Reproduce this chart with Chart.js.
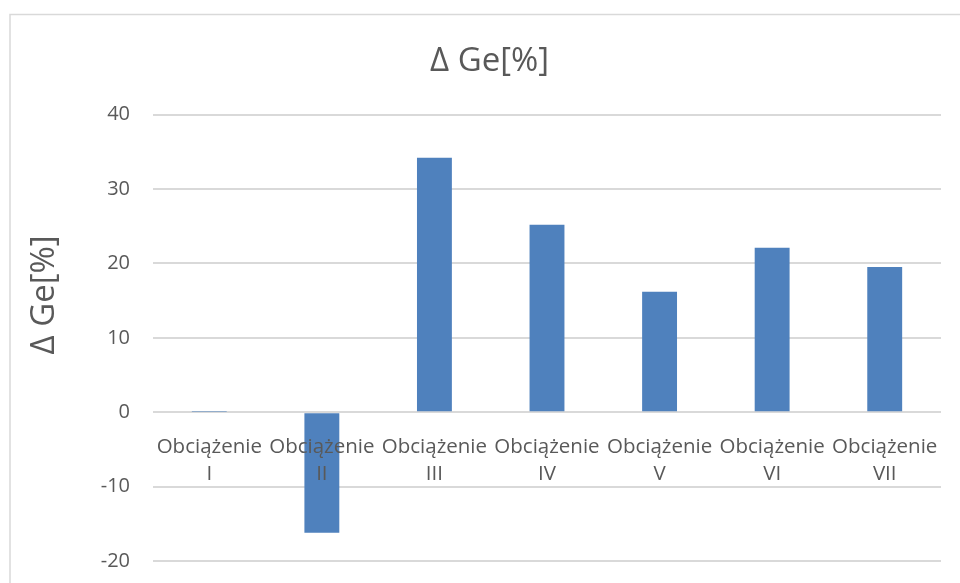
<!DOCTYPE html>
<html>
<head>
<meta charset="utf-8">
<script src="https://cdn.jsdelivr.net/npm/chart.js@4"></script>
<style>
  html, body { margin: 0; padding: 0; background: #fff; overflow: hidden; }
</style>
</head>
<body>
<canvas id="myChart" width="960" height="583"></canvas>
<script>
// load cases and the change of Ge for each of them
var categories = [
  ['Obciążenie', 'I'], ['Obciążenie', 'II'], ['Obciążenie', 'III'],
  ['Obciążenie', 'IV'], ['Obciążenie', 'V'], ['Obciążenie', 'VI'],
  ['Obciążenie', 'VII']
];
var deltaGe = [0.05, -16.2, 34.2, 25.2, 16.2, 22.1, 19.5];
var yTicks = [-20, -10, 0, 10, 20, 30, 40];

var textColor = '#595959';
var gridColor = '#d9d9d9';
var fontFamily = '"Open Sans", sans-serif';

// white background plus the top and left edge of the chart frame
var framePlugin = {
  id: 'frame',
  beforeDraw: function(chart) {
    var c = chart.ctx;
    c.save();
    c.fillStyle = '#fff';
    c.fillRect(0, 0, chart.width, chart.height);
    c.strokeStyle = gridColor;
    c.lineWidth = 1.5;
    c.beginPath();
    c.moveTo(10, chart.height);
    c.lineTo(10, 14.5);
    c.lineTo(chart.width, 14.5);
    c.stroke();
    c.restore();
  }
};

var ctx = document.getElementById('myChart').getContext('2d');
var myChart = new Chart(ctx, {
  type: 'bar',
  data: {
    labels: categories,
    datasets: [{
      label: 'Δ Ge[%]',
      data: deltaGe,
      backgroundColor: '#4f81bd',
      borderWidth: 0,
      categoryPercentage: 1,
      barPercentage: 0.31
    }]
  },
  options: {
    responsive: false,
    animation: false,
    layout: { padding: { left: 19, right: 0, top: 0, bottom: 22 } },
    plugins: {
      legend: { display: false },
      tooltip: { enabled: false },
      title: {
        display: true,
        text: 'Δ Ge[%]',
        color: textColor,
        font: { family: fontFamily, size: 33, weight: 'normal', lineHeight: 1.2 },
        padding: { top: 42, bottom: 33 }
      }
    },
    scales: {
      x: {
        position: { y: 0 },
        grid: { display: false, drawTicks: false },
        border: { display: false },
        ticks: {
          z: 1,
          autoSkip: false,
          maxRotation: 0,
          minRotation: 0,
          padding: 21,
          color: textColor,
          font: { family: fontFamily, size: 20.5, lineHeight: 1.33 }
        }
      },
      y: {
        min: -20,
        max: 40,
        afterBuildTicks: function(scale) {
          scale.ticks = yTicks.map(function(v) { return { value: v }; });
        },
        afterFit: function(scale) { scale.width = 134; },
        // invisible tick marks give the gap between labels and grid
        grid: { color: gridColor, lineWidth: 2, drawTicks: true, tickLength: 23, tickColor: 'rgba(0,0,0,0)' },
        border: { display: false },
        ticks: {
          padding: 0,
          color: textColor,
          font: { family: fontFamily, size: 20 }
        },
        title: {
          display: true,
          text: '          Δ Ge[%]',
          color: textColor,
          font: { family: fontFamily, size: 33, lineHeight: 1.2 },
          padding: { top: 6, bottom: 0 }
        }
      },
      // empty axis that keeps a margin on the right of the plot
      y2: {
        position: 'right',
        display: true,
        grid: { display: false, drawTicks: false },
        border: { display: false },
        ticks: { display: false },
        afterFit: function(scale) { scale.width = 19; }
      }
    }
  },
  plugins: [framePlugin]
});
</script>
</body>
</html>
